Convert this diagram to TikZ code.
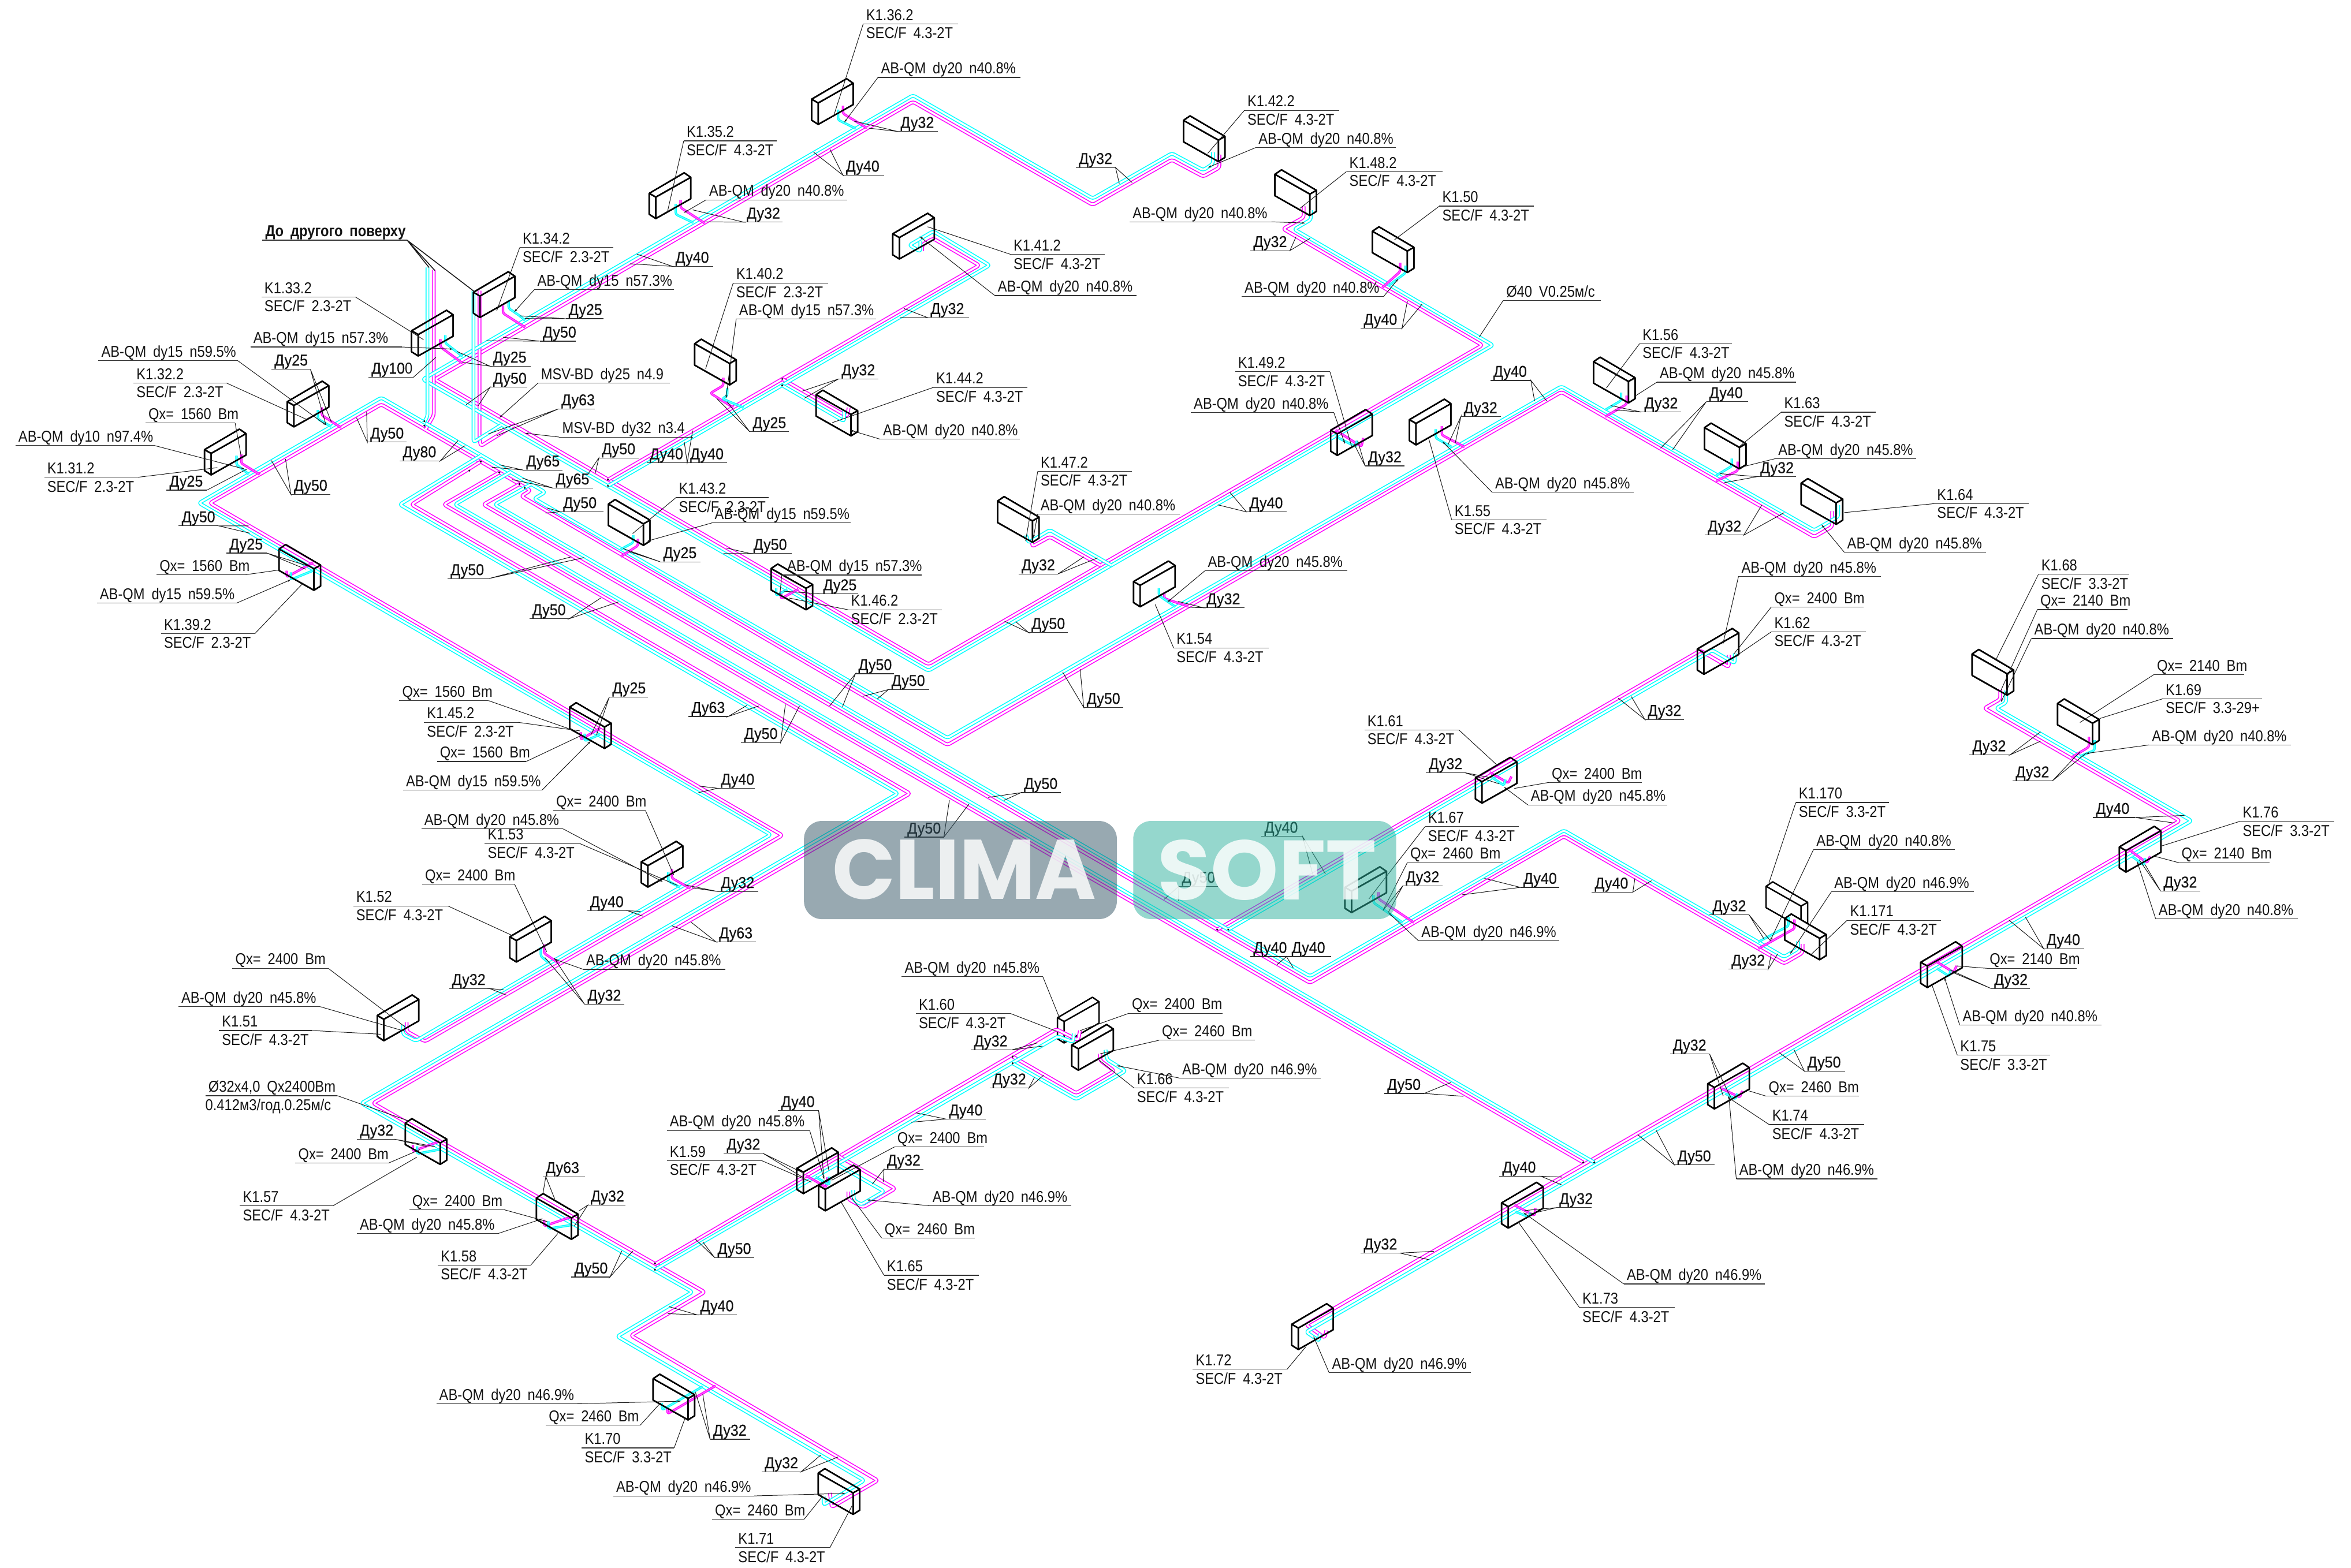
\documentclass[tikz,border=0pt]{standalone}
\usepackage{fontspec}
\setmainfont[FakeStretch=0.87,WordSpace=1.8]{Liberation Sans}
\newfontfamily\wmfont{Poppins}
\newfontfamily\dufont[FakeStretch=0.92,FakeBold=0.35]{Liberation Sans}
\usetikzlibrary{arrows.meta}
\definecolor{mg}{RGB}{255,0,255}
\definecolor{cy}{RGB}{0,255,255}
\definecolor{wmgrey}{RGB}{51,85,101}
\definecolor{wmteal}{RGB}{45,177,157}
\newcounter{lbn}
\tikzset{
  pm/.style={draw=mg,line width=.62pt,double=white,double distance=1.25pt,rounded corners=1.5pt,line join=round},
  pc/.style={draw=cy,line width=.62pt,double=white,double distance=1.25pt,rounded corners=1.5pt,line join=round},
  hm/.style={draw=mg,line width=.5pt,double=mg!60!white,double distance=.6pt,rounded corners=1.2pt,line join=round},
  hc/.style={draw=cy,line width=.5pt,double=cy!60!white,double distance=.6pt,rounded corners=1.2pt,line join=round},
  rad/.style={draw=black,line width=.95pt,line join=round,fill=white},
  radl/.style={draw=black,line width=.95pt,line join=round},
  ul/.style={draw=black!80,line width=.45pt},
  ld/.style={draw=black!90,line width=.38pt},
  la/.style={draw=black!90,line width=.38pt,-{Stealth[length=2.4pt,width=1.3pt]}},
  lb/.style={anchor=base west,inner sep=0pt,outer sep=0pt,font=\fontsize{10.5}{12}\selectfont,text=black!92},
}
\newcommand{\RadBody}{%
  \draw[rad] (0,0)--(23.3,-13.7)--(27.7,-10.7)--(27.7,3.6)--(4.4,16.8)--(0,14)--cycle;
  \draw[radl] (0,0)--(4.4,2.5)--(27.7,-10.7) (4.4,2.5)--(4.4,16.8);}
\newcommand{\RadA}[2]{\begin{scope}[shift={(#1,#2)}]\RadBody\end{scope}}
\newcommand{\RadB}[2]{\begin{scope}[shift={(#1,#2)},xscale=-1]\RadBody\end{scope}}
\newcommand{\U}[4]{\draw[ul] (#1,#3)--(#2,#3);\stepcounter{lbn}\node[lb] (t\thelbn) at ({#1+2},{#3-2.4}) {#4};}
\newcommand{\UU}[5]{\draw[ul] (#1,#3)--(#2,#3);\stepcounter{lbn}\node[lb] (t\thelbn) at ({#1+2},{#3-2.4}) {#4};\stepcounter{lbn}\node[lb] (t\thelbn) at ({#1+2},{#3+9.8}) {#5};}
\newcommand{\Ld}[2]{\draw[ld] (#1)--(#2);}
\newcommand{\La}[2]{\draw[la] (#1)--(#2);}
\newcommand{\Lt}[3]{\draw[ld] (#2)--(#1)--(#3);}
\catcode`Д=\active
\def Д#1#2#3{{\dufont\symbol{"0414}#1#2#3}}
\begin{document}
\begin{tikzpicture}[x=1pt,y=-1pt]
\useasboundingbox (0,0) rectangle (1568,1046);
\fill[white] (0,0) rectangle (1568,1046);
% radiators
\RadA{136.4}{300}\RadA{191.6}{268}\RadA{274.5}{220.7}\RadA{315.7}{195}\RadA{433}{129}\RadA{541.3}{66.2}\RadA{595.4}{156}
\RadB{491}{240}\RadB{572}{274}\RadB{817}{91}\RadB{878}{127}\RadB{943}{165}\RadB{693}{345}\RadB{433.5}{347}\RadB{542}{390}
\RadA{756}{388}\RadA{940}{280}\RadA{887.5}{287}\RadB{1090.5}{252}\RadB{1164.5}{296}\RadB{1229}{333}
\RadA{1132}{433}\RadA{984}{519}\RadA{897}{592}\RadB{1343}{447}\RadB{1400}{480}\RadA{1413.5}{565}\RadA{1281}{642}
\RadB{1205.6}{602}\RadB{1218}{623.5}\RadA{1139}{723}\RadA{1001.5}{802.5}\RadA{861.5}{883.5}
\RadA{705.3}{679}\RadA{714.8}{697.2}\RadA{531.4}{779.5}\RadA{546}{791}
\RadB{298}{760}\RadB{385.5}{810}\RadB{463.3}{930.5}\RadB{573.4}{993.5}
\RadA{251.6}{677.5}\RadA{340}{625}\RadA{427.7}{575}\RadB{407.6}{482.5}\RadB{213.8}{377}
% main pipes, magenta
\draw[pm] (271.2,682)--(271.2,688)--(283.5,694.8)--(521.8,557.3)--(140,335.6)--(254.3,269.8)--(353.8,327.2)--(347.7,331)--(631.9,497)--(1041.4,261.5)--(1210,358.2)--(1222,351.3)--(1222,341);
\draw[pm] (813.3,103.2)--(813.3,111.8)--(802.5,117.8)--(781.6,106.6)--(728.8,136.7)--(608.9,67.9)--(290,253.1)--(619.2,443.2)--(988.6,230.3)--(855.8,152.7)--(869.5,145)--(869.5,137.6);
\draw[pm] (320.6,308)--(274.4,336.6)--(606.9,529.4)--(248.8,736)--(470,862)--(420.8,891)--(585.4,987.7)--(554.7,1005.5)--(553.5,996);
\draw[pm] (333,315.2)--(296,336.6)--(1055.9,775.5);
\draw[pm] (346.4,323)--(322.4,336.6)--(811.8,620.2)--(873.7,655.7)--(1043,558)--(1189.9,642.8)--(1202.2,635.7)--(1202.2,629.8);
\draw[pm] (811.8,620.2)--(1134,434)--(1153,445)--(1153,437);
\draw[pm] (884.6,887.6)--(883.4,892.5)--(871.1,883.7)--(1453.7,547.6)--(1323.5,472.5)--(1334,466.5)--(1334,459.5);
\draw[pm] (405.5,320)--(653.1,177)--(622.4,159.1)--(615,163.3)--(615,167.5);
\draw[pm] (521.7,252.8)--(565,277.8)--(566,272);
\draw[pm] (289.3,180)--(289.3,277)--(283.9,286.4);
\draw[pm] (343,283.7)--(320.6,297.6)--(319.8,292)--(319.8,194);
\draw[pm] (436.8,843.4)--(704.6,686.6)--(719,694)--(720.3,687.6);
\draw[pm] (675.4,704.9)--(717.8,729.3)--(743.2,714.5)--(733.8,707.5)--(733.4,703);
\draw[pm] (559.6,771.5)--(597,793)--(575.6,805.5)--(565.8,800)--(565.8,795);
\draw[pm] (733.9,377.2)--(700.2,358.1)--(688.4,364.6)--(688.4,360);
% main pipes, cyan
\draw[pc] (268.8,684)--(268.8,690)--(277.4,694.4)--(514,556.9)--(132.7,335.6)--(254.3,265.3)--(363.6,328.4)--(356.3,332.7)--(631.9,492.3)--(1041.4,257.8)--(1210,353.8)--(1226,344.6)--(1226,337);
\draw[pc] (809,101.5)--(809,109.2)--(802.5,113.5)--(781.6,102.3)--(728.8,132.4)--(608.9,63.6)--(282,253.1)--(619.2,447.5)--(995.7,230.3)--(863.2,153)--(874.3,146.5)--(874.3,140.2);
\draw[pc] (320.6,304)--(266.6,336.6)--(598.8,529.4)--(241,736)--(461.8,862)--(411.7,891.6)--(576.4,987.7)--(549.3,1004)--(549.3,998);
\draw[pc] (340.3,315)--(303.4,336.6)--(1063.3,775.5);
\draw[pc] (353.8,323.3)--(330,336.6)--(819.2,620.2)--(873.7,651.3)--(1043,554)--(1189.9,638.4)--(1199.2,633)--(1199.2,628);
\draw[pc] (819.2,620.2)--(1142,433.8)--(1157,442.5)--(1157,436);
\draw[pc] (880.2,889.6)--(879.7,894.5)--(871.1,888.6)--(1461.6,547.6)--(1331.4,472.5)--(1338,468.7)--(1338,460.6);
\draw[pc] (405.5,324.2)--(660,177)--(622.4,154.3)--(606.5,163.5)--(613.8,167.8)--(613.8,161);
\draw[pc] (521.7,257.1)--(563,281)--(563,274);
\draw[pc] (285.1,178.5)--(285.1,277.8)--(282.7,282);
\draw[pc] (334.3,283.5)--(315.8,295)--(315.8,194);
\draw[pc] (436.8,847.1)--(705.6,691.4)--(715.8,695.2)--(716.1,689.5);
\draw[pc] (675.4,709.4)--(717.8,733.4)--(750.7,714.5)--(738.3,706.8)--(737.3,700.4);
\draw[pc] (558.4,776.9)--(589.6,794.8)--(574.4,803.6)--(569.5,800.8)--(569,794);
\draw[pc] (741.3,377.2)--(700.2,353.6)--(686,362)--(684.3,357);
% hooks
\draw[hm] (160.9,303.2)--(160.9,309)--(173.2,316.6); \draw[hc] (157.7,304)--(157.7,310)--(165.9,316.3);
\draw[hm] (214.6,271.8)--(214.6,277)--(227.5,285.3); \draw[hc] (212,273.5)--(212,279.5)--(220.9,284.6);
\draw[hm] (293.7,226.2)--(293.7,231.4)--(308.5,242.4); \draw[hc] (297,223.6)--(297,228.8)--(308.5,237.8);
\draw[hm] (335.5,203.9)--(335.5,209)--(350.2,218.4); \draw[hc] (339.2,200.4)--(339.2,205.6)--(346.6,210.7)--(350.2,213.8);
\draw[hm] (453.9,133.3)--(453.9,138.5)--(470,148.9); \draw[hc] (450.7,136)--(450.7,143)--(462.5,148.6);
\draw[hm] (562.2,70.5)--(562.2,75.7)--(578.2,85.4); \draw[hc] (559,73.1)--(559,80)--(570.8,85.8);
\draw[hm] (191.2,380.8)--(191.2,385)--(208.8,375.3); \draw[hc] (194,381.8)--(194,386.7)--(210,380.2);
\draw[hm] (387.4,488.5)--(387.4,493.4)--(400.2,485.7); \draw[hc] (390,489.5)--(390,494.4)--(400.2,490);
\draw[hm] (425.5,359.5)--(425.5,364)--(414,371.3); \draw[hc] (422.3,357)--(422.3,362)--(414,366.5);
\draw[hm] (520.9,394.4)--(520.9,399.4)--(532.4,393.1); \draw[hc] (517.7,392.5)--(517.7,397.4)--(525,393.2);
\draw[hm] (909.2,292.2)--(908,298)--(890.8,287); \draw[hc] (905,294)--(904.3,298)--(890.8,291.2);
\draw[hm] (933.8,175.3)--(933.8,181.2)--(922,191.8); \draw[hc] (937.5,177.2)--(937.5,182)--(926.4,190.3);
\draw[hm] (776.5,395.3)--(776.5,399.2)--(792.5,404.6); \draw[hc] (772.9,392.4)--(772.9,397.3)--(783.9,404.8);
\draw[hm] (961.6,284.3)--(961.6,290.2)--(976.8,298.2); \draw[hc] (957.6,286.3)--(957.6,292.2)--(968.2,298.2);
\draw[hm] (1084.9,264)--(1084.9,269.6)--(1070.6,278); \draw[hc] (1081.2,262)--(1081.2,267.2)--(1070.6,273.5);
\draw[hm] (1159,308)--(1159,314)--(1144.5,321); \draw[hc] (1155,306)--(1155,311)--(1144.5,317.3);
\draw[hm] (448.1,579.9)--(448.1,585.8)--(460.4,592.7); \draw[hc] (445.7,581.9)--(445.7,587.8)--(453.5,592);
\draw[hm] (362.9,630)--(362.9,635.9)--(373.2,643); \draw[hc] (360.7,632)--(360.7,637.9)--(366,642.4);
\draw[hm] (275.4,763.8)--(275.4,768)--(293,761.5); \draw[hc] (278.2,764.8)--(278.2,769.7)--(294.2,766.7);
\draw[hm] (362.9,813.8)--(362.9,818)--(380.5,812); \draw[hc] (365.7,814.8)--(365.7,819.7)--(381.7,817.2);
\draw[hm] (444.9,939)--(445.4,943.2)--(477.3,924.5); \draw[hc] (441.2,936)--(441.7,940.6)--(468.7,925);
\draw[hm] (552,785.5)--(551,792)--(537.5,784.3); \draw[hc] (553,785)--(553,790.5)--(544,785.2);
\draw[hm] (919.4,595.2)--(919.4,599.7)--(943,615.5); \draw[hc] (916,597)--(916,602.2)--(935.6,615.6);
\draw[hm] (1008,518)--(1006,522.4)--(993.6,515.3); \draw[hc] (1004,520)--(1003,524)--(995,518.6);
\draw[hm] (1393.2,491.6)--(1393.2,498.3)--(1381.4,505.5); \draw[hc] (1397,493.8)--(1397,500.5)--(1387.2,504.6);
\draw[hm] (1196.8,613.4)--(1196.8,619.5)--(1172.7,632.9); \draw[hc] (1192.8,611.7)--(1192.8,617.7)--(1172.7,628.4);
\draw[hm] (1024,806)--(1023.5,811)--(1010,804); \draw[hc] (1020.5,809)--(1019.8,812)--(1010.7,808.4);
\draw[hm] (1162,727.8)--(1160.4,732.1)--(1148,726.1); \draw[hc] (1158.7,729.5)--(1157.4,733.3)--(1150.6,729.5);
\draw[hm] (1304.9,644.4)--(1302.9,648.7)--(1290.6,641); \draw[hc] (1301,647)--(1300,651.3)--(1291.8,646.1);
\draw[hm] (1434,571.3)--(1431.9,575.7)--(1420,566.8); \draw[hc] (1430.6,572.4)--(1429.8,577.2)--(1421.9,571.3);
\draw[hm] (482.4,252)--(482.4,257.2)--(473.8,262.3)--(489,271.9); \draw[hc] (485,259)--(485,264)--(481.7,266)--(496,272);
% junction marks
\foreach \p in {(405.5,320),(405.5,324.2),(436.8,843),(436.8,847.1),(1055.9,775.5),(1063.3,775.5),(811.8,620.2),(819.2,620.2),(675.4,704.9),(675.4,709.4),(521.7,252.8),(521.7,257.1),(283,284),(283,281),(313,314),(320.6,308),(333,315.2),(346.4,323),(350,325.5)}{\fill[black] \p circle (.7);}
% radiator outlines over the pipes (K1.60 and K1.170 stay behind their neighbours)
\begin{scope}[rad/.style={draw=black,line width=.95pt,line join=round}]
\RadA{136.4}{300}\RadA{191.6}{268}\RadA{274.5}{220.7}\RadA{315.7}{195}\RadA{433}{129}\RadA{541.3}{66.2}\RadA{595.4}{156}
\RadB{491}{240}\RadB{572}{274}\RadB{817}{91}\RadB{878}{127}\RadB{943}{165}\RadB{693}{345}\RadB{433.5}{347}\RadB{542}{390}
\RadA{756}{388}\RadA{940}{280}\RadA{887.5}{287}\RadB{1090.5}{252}\RadB{1164.5}{296}\RadB{1229}{333}
\RadA{1132}{433}\RadA{984}{519}\RadA{897}{592}\RadB{1343}{447}\RadB{1400}{480}\RadA{1413.5}{565}\RadA{1281}{642}
\RadB{1218}{623.5}\RadA{1139}{723}\RadA{1001.5}{802.5}\RadA{861.5}{883.5}
\RadA{714.8}{697.2}\RadA{531.4}{779.5}\RadA{546}{791}
\RadB{298}{760}\RadB{385.5}{810}\RadB{463.3}{930.5}\RadB{573.4}{993.5}
\RadA{251.6}{677.5}\RadA{340}{625}\RadA{427.7}{575}\RadB{407.6}{482.5}\RadB{213.8}{377}
\end{scope}
% ---- labels and leaders ----
\U{175}{271.5}{160.2}{\bfseries\symbol{"0414}о другого поверху}
\draw[ld,line width=.6pt] (271.5,160.2)--(286.2,178.5) (271.5,160.2)--(290,180.4) (271.5,160.2)--(317,195);
\UU{174.4}{237}{198.1}{K1.33.2}{SEC/F 2.3-2T}\Ld{237,198.1}{282.5,226.6}
\U{167}{268}{231.5}{AB-QM dy15 n57.3\%}\La{268,231.5}{302.2,232.9}
\U{245.7}{275.7}{251.7}{Ду100}\Ld{275.7,251.7}{290.7,238.4}
\U{326.8}{353.8}{244.3}{Ду25}\Lt{326.8,244.3}{304.8,234.5}{308.5,241.7}
\U{65.6}{158.5}{240.6}{AB-QM dy15 n59.5\%}\La{158.5,240.6}{217.4,283.6}
\U{181}{207}{246.3}{Ду25}\Lt{207,246.3}{217.4,283.6}{221,281.6}
\UU{89}{151}{255.5}{K1.32.2}{SEC/F 2.3-2T}\Ld{151,255.5}{204,279.6}
\U{97}{156.8}{282.2}{Qx= 1560 Bm}\Ld{156.8,282.2}{161,305.2}
\U{10.3}{103.2}{297.3}{AB-QM dy10 n97.4\%}\La{103.2,297.3}{163.4,313}
\UU{29.5}{92.1}{318.4}{K1.31.2}{SEC/F 2.3-2T}\Ld{92.1,318.4}{145,312}
\U{111}{138}{327}{Ду25}\Ld{138,327}{164.6,313}
\U{194}{220.4}{329.8}{Ду50}\Lt{194,329.8}{181,307.2}{190.4,306.2}
\U{245}{271}{295}{Ду50}\Lt{245,295}{237.8,278.7}{244.5,274.7}
\U{266.6}{293.6}{307.5}{Ду80}\Lt{293.6,307.5}{305.4,294}{310.3,297.3}
\U{119.2}{145.7}{350.8}{Ду50}\Lt{145.7,350.8}{165.8,350.8}{166.6,355.7}
\U{151}{178}{369}{Ду25}\Lt{178,369}{204,379.8}{206.4,377.9}
\U{104.4}{163.9}{383.4}{Qx= 1560 Bm}\Ld{163.9,383.4}{186.7,380.2}
\U{64.6}{157.7}{402.4}{AB-QM dy15 n59.5\%}\La{157.7,402.4}{194,386.7}
\UU{107.4}{170}{422.7}{K1.39.2}{SEC/F 2.3-2T}\Ld{170,422.7}{201.5,389.7}
\U{298.5}{325.6}{386.1}{Ду50}\Lt{325.6,386.1}{381,371.5}{389.6,372}
\U{353}{379.6}{412.8}{Ду50}\Lt{379.6,412.8}{400.6,399}{412.4,401.6}
\UU{346.6}{409.2}{165.2}{K1.34.2}{SEC/F 2.3-2T}\Ld{346.6,165.2}{331.3,207.3}
\U{356.4}{449.3}{193.2}{AB-QM dy15 n57.3\%}\La{356.4,193.2}{342.9,208.2}
\U{377.3}{402.3}{212.6}{Ду25}\Lt{377.3,212.6}{346.6,210.7}{350.2,212.5}
\U{360}{384}{227.6}{Ду50}\Lt{360,227.6}{324.4,227.4}{335.5,225}
\U{448.5}{475.6}{177.7}{Ду40}\Lt{448.5,177.7}{424.7,169.5}{420.3,176}
\U{326.9}{351.5}{258.4}{Ду50}\Lt{326.9,258.4}{310.9,270}{319,270.6}
\U{358.8}{446.6}{255.6}{MSV-BD dy25 n4.9}\La{358.8,255.6}{333,278.7}
\U{372.4}{396.9}{272.8}{Ду63}\Lt{372.4,272.8}{325.7,289.5}{331.3,290.7}
\U{373}{462}{291.6}{MSV-BD dy32 n3.4}\La{373,291.6}{350.2,289}
\U{399.4}{426}{305.5}{Ду50}\Lt{399.4,305.5}{392,316.5}{397,315.7}
\U{431.3}{458.3}{308.8}{Ду40}\U{458.3}{484.9}{308.8}{Ду40}\Lt{458.3,308.8}{462,287.3}{456.4,295}
\U{349}{375.3}{313.6}{Ду65}\Lt{349,313.6}{333,310.1}{328,311.7}
\U{368.7}{395.7}{325.6}{Ду65}\Lt{368.7,325.6}{348.5,319}{341.6,320}
\U{373.6}{402.3}{341.4}{Ду50}\Lt{373.6,341.4}{365,338.9}{363.8,342.3}
\UU{450.8}{512.8}{332}{K1.43.2}{SEC/F 2.3-2T}\Ld{450.8,332}{421.9,356}
\U{474.7}{567.3}{348.9}{AB-QM dy15 n59.5\%}\La{474.7,348.9}{431.7,361}
\U{440.3}{467.3}{374.8}{Ду25}\Lt{440.3,374.8}{415.7,366}{419.4,368}
\U{500.5}{528}{369.3}{Ду50}\Lt{500.5,369.3}{484.5,365.6}{482.5,369.3}
\draw[ul] (521.4,383.6)--(614.7,383.6);\node[lb] (abx) at (525,381.2) {AB-QM dy15 n57.3\%};\La{521.4,383.6}{520,398}
\U{547}{572.2}{396.2}{Ду25}\Ld{547,396.2}{522.6,394.4}
\UU{565.6}{628.2}{406.8}{K1.46.2}{SEC/F 2.3-2T}\Ld{565.6,406.8}{526.3,399}
\U{679.3}{705.6}{382.9}{Ду32}\Lt{705.6,382.9}{722.8,371.5}{732,372.2}
\UU{692.1}{754.8}{314.5}{K1.47.2}{SEC/F 4.3-2T}\Ld{692.1,314.5}{684,361}
\U{692}{787}{343}{AB-QM dy20 n40.8\%}\La{692,343}{689.2,359}
\U{686}{712.3}{422}{Ду50}\Lt{686,422}{670,414.5}{677.4,414.7}
\U{722.8}{749}{472}{Ду50}\Lt{722.8,472}{708.8,448.5}{720.4,446.5}
\U{570.5}{596.3}{449.5}{Ду50}\Lt{570.5,449.5}{553.3,471}{561.9,471.5}
\U{592.6}{619.6}{460}{Ду50}\Lt{592.6,460}{575.4,464.6}{585.2,466.2}
\U{459.2}{485.7}{478}{Ду63}\Lt{485.7,478}{498,470.7}{506,471}
\U{494.3}{520.6}{495.4}{Ду50}\Lt{520.6,495.4}{523.8,470}{533.2,471}
\U{478.8}{503.4}{525.9}{Ду40}\Lt{478.8,525.9}{466.6,524.5}{465.8,528.8}
\U{681}{707.6}{528.8}{Ду50}\Lt{681,528.8}{659,532}{669.5,534}
\U{603.2}{629.5}{558.5}{Ду50}\Lt{629.5,558.5}{633.2,533.9}{646.2,536.5}
\U{406.4}{432.2}{465}{Ду25}\Lt{406.4,465}{394,490.5}{397.8,490.5}
\U{266.3}{326}{467.5}{Qx= 1560 Bm}\Ld{326,467.5}{381.8,487}
\UU{282.8}{345.4}{481.9}{K1.45.2}{SEC/F 2.3-2T}\Ld{345.4,481.9}{386.7,487.6}
\U{291.4}{351}{508}{Qx= 1560 Bm}\Ld{351,508}{388,490.5}
\U{268.8}{361.6}{527}{AB-QM dy15 n59.5\%}\La{361.6,527}{394,494.4}
\U{369}{430.4}{540.6}{Qx= 2400 Bm}\Ld{430.4,540.6}{449.4,583.8}
\U{281}{375.6}{553}{AB-QM dy20 n45.8\%}\La{375.6,553}{442,588.3}
\UU{323.3}{386.7}{562.8}{K1.53}{SEC/F 4.3-2T}\Ld{386.7,562.8}{451.8,590.7}
\U{478.8}{505.9}{594.8}{Ду32}\Lt{478.8,594.8}{456.7,590.3}{461.6,592.3}
\U{391.6}{418.6}{607.6}{Ду40}\Lt{418.6,607.6}{427.2,608}{429,611.3}
\U{477.6}{504.2}{628.4}{Ду63}\Lt{477.6,628.4}{448.1,617.6}{461,615.3}
\U{281.5}{343.2}{589.9}{Qx= 2400 Bm}\Ld{343.2,589.9}{364.6,635}
\UU{235.6}{298.7}{604.4}{K1.52}{SEC/F 4.3-2T}\Ld{298.7,604.4}{342.5,624.5}
\U{389}{483.8}{646.7}{AB-QM dy20 n45.8\%}\La{389,646.7}{369.5,639.8}
\U{389.9}{416.2}{670}{Ду32}\Lt{389.9,670}{363.4,638.8}{369.5,639}
\U{299.5}{326.5}{659.5}{Ду32}\Lt{326.5,659.5}{335.8,660.4}{337.6,663.8}
\U{155}{218.9}{646}{Qx= 2400 Bm}\Ld{218.9,646}{270,685}
\U{119}{213.5}{671.6}{AB-QM dy20 n45.8\%}\La{213.5,671.6}{270,688}
\UU{146}{208}{687.5}{K1.51}{SEC/F 4.3-2T}\Ld{208,687.5}{254,690}
\U{137}{225}{731}{Ø32x4,0 Qx2400Bm}\node[lb] (t0a) at (137,741) {0.412м3/год.0.25м/с};\Ld{225,731}{273,748}
\U{238}{263}{760}{Ду32}\Lt{263,760}{285,765}{290,765}
\U{197}{259}{776}{Qx= 2400 Bm}\Ld{259,776}{280,767}
\UU{160}{222}{804.5}{K1.57}{SEC/F 4.3-2T}\Ld{222,804.5}{278,772}
\U{362}{390}{785}{Ду63}\Lt{364,785}{362,797}{370,800}
\U{392}{417}{804}{Ду32}\Lt{392,804}{386,808}{383,818}
\U{273}{336}{807}{Qx= 2400 Bm}\Ld{336,807}{365,815}
\U{238}{332}{823}{AB-QM dy20 n45.8\%}\La{332,823}{362,813}
\UU{292}{354}{844}{K1.58}{SEC/F 4.3-2T}\Ld{354,844}{372,823}
\U{381}{406.8}{852}{Ду50}\Lt{406.8,852}{414.7,834.6}{422,834.6}
\U{465}{491.3}{877.2}{Ду40}\Lt{465,877.2}{446.1,871.7}{445.4,876.4}
\U{473.6}{500.2}{960.2}{Ду32}\Lt{473.6,960.2}{463.8,928.8}{468.7,930}
\U{291}{385}{936.5}{AB-QM dy20 n46.9\%}\La{385,936.5}{454,934.8}
\U{364}{427}{950.8}{Qx= 2460 Bm}\Ld{427,950.8}{440.5,936}
\UU{388}{449.6}{966}{K1.70}{SEC/F 3.3-2T}\Ld{449.6,966}{457,945.8}
\U{508}{534.3}{981.9}{Ду32}\Lt{534.3,981.9}{547.4,970.7}{559,972}
\U{409}{503}{998}{AB-QM dy20 n46.9\%}\La{503,998}{563.8,996.3}
\U{474.9}{536.3}{1013.6}{Qx= 2460 Bm}\Ld{536.3,1013.6}{548.6,998.2}
\UU{490.4}{553.5}{1032.5}{K1.71}{SEC/F 4.3-2T}\Ld{553.5,1032.5}{568.2,1004.7}
\U{519}{546}{741}{Ду40}\Lt{546,741}{549.3,784.8}{552.8,780.9}
\U{444.7}{540}{754.2}{AB-QM dy20 n45.8\%}\La{540,754.2}{549.8,786.9}
\U{482.7}{508.8}{769.4}{Ду32}\Lt{508.8,769.4}{535,782.2}{536.3,786}
\UU{444.7}{508}{774.3}{K1.59}{SEC/F 4.3-2T}\Ld{508,774.3}{541.2,788.7}
\U{589.6}{615.7}{780}{Ду32}\Lt{589.6,780}{581.8,790}{589,788.7}
\U{596.5}{656.2}{765.2}{Qx= 2400 Bm}\Ld{596.5,765.2}{554.7,787.4}
\U{620}{714.4}{804.4}{AB-QM dy20 n46.9\%}\La{620,804.4}{578,800.5}
\U{588}{650}{825.9}{Qx= 2460 Bm}\Ld{588,825.9}{568.2,799.2}
\UU{589.6}{653}{850.8}{K1.65}{SEC/F 4.3-2T}\Ld{589.6,850.8}{560.9,801.8}
\U{476.6}{503.1}{839}{Ду50}\Lt{476.6,839}{463.8,826.7}{468.7,828.5}
\U{631}{657.4}{746.6}{Ду40}\Lt{631,746.6}{610.8,742.4}{607.6,748.7}
\U{601.4}{695.5}{651.6}{AB-QM dy20 n45.8\%}\La{695.5,651.6}{707,680}
\UU{610.8}{674}{676.2}{K1.60}{SEC/F 4.3-2T}\Ld{674,676.2}{704.6,688}
\U{647.6}{674.6}{700.5}{Ду32}\Lt{674.6,700.5}{691.8,695.8}{695.3,697.9}
\U{660}{686.2}{725.9}{Ду32}\Lt{686.2,725.9}{689.9,718.8}{696,717.3}
\U{753}{815.3}{676}{Qx= 2400 Bm}\Ld{753,676}{720.3,687.6}
\U{773}{837}{694}{Qx= 2460 Bm}\Ld{773,694}{733.8,703}
\U{786.5}{881}{719.2}{AB-QM dy20 n46.9\%}\La{786.5,719.2}{744.7,710.9}
\UU{756.3}{819.6}{725.8}{K1.66}{SEC/F 4.3-2T}\Ld{756.3,725.8}{733.2,707.4}
\U{923.2}{949.8}{729.5}{Ду50}\Lt{949.8,729.5}{967.7,722.2}{976,731.4}
\U{1000}{1027.6}{784.7}{Ду40}\Lt{1027.6,784.7}{1041.9,785.3}{1041.4,790.4}
\U{1038}{1061.5}{805.7}{Ду32}\Lt{1038,805.7}{1016.8,807.6}{1020,810}
\U{907.5}{933.8}{836}{Ду32}\Lt{933.8,836}{956.4,834.8}{953.4,840.5}
\U{1083}{1177}{856.6}{AB-QM dy20 n46.9\%}\La{1083,856.6}{1016.1,809}
\UU{1053.4}{1116.8}{872.3}{K1.73}{SEC/F 4.3-2T}\Ld{1053.4,872.3}{1012.4,815}
\UU{795.5}{858.4}{913.5}{K1.72}{SEC/F 4.3-2T}\Ld{858.4,913.5}{871,898.4}
\U{886.4}{981}{915.7}{AB-QM dy20 n46.9\%}\La{886.4,915.7}{876,891.5}
\U{1116.8}{1143.4}{777.2}{Ду50}\Lt{1116.8,777.2}{1092.3,757}{1104.5,754}
\U{1113.7}{1140.2}{703.2}{Ду32}\Lt{1140.2,703.2}{1149.3,731.2}{1154.3,732.1}
\U{1203.4}{1230.4}{714.6}{Ду50}\Lt{1203.4,714.6}{1186.7,702.3}{1196.5,700.3}
\U{1177.6}{1239.8}{731.2}{Qx= 2460 Bm}\Ld{1177.6,731.2}{1166.5,727.8}
\UU{1180}{1243.2}{750.3}{K1.74}{SEC/F 4.3-2T}\Ld{1180,750.3}{1152.5,732.1}
\U{1158}{1252}{786.5}{AB-QM dy20 n46.9\%}\La{1158,786.5}{1153,731}
\U{1363}{1390}{632.9}{Ду40}\Lt{1363,632.9}{1339.8,613.8}{1350.8,611.7}
\U{1325}{1385.2}{646}{Qx= 2140 Bm}\Ld{1325,646}{1304.9,644.4}
\U{1328}{1354}{659.5}{Ду32}\Lt{1328,659.5}{1300.4,647}{1302.9,649}
\U{1307}{1401.7}{683.8}{AB-QM dy20 n40.8\%}\La{1307,683.8}{1296.8,652}
\UU{1305.4}{1367.5}{703.9}{K1.75}{SEC/F 3.3-2T}\Ld{1305.4,703.9}{1288.2,656.4}
\U{1395.9}{1424}{545.4}{Ду40}\Lt{1424,545.4}{1456.9,544}{1450.3,549.1}
\UU{1493.8}{1557}{548}{K1.76}{SEC/F 3.3-2T}\Ld{1493.8,548}{1441,564.6}
\U{1453}{1513.5}{575.5}{Qx= 2140 Bm}\Ld{1453,575.5}{1437.2,571.3}
\U{1441}{1467.4}{594.5}{Ду32}\Lt{1441,594.5}{1426.7,573.5}{1430.6,576.8}
\U{1437.7}{1532.4}{613}{AB-QM dy20 n40.8\%}\La{1437.7,613}{1425.3,574.6}
\U{1342.4}{1368.8}{521}{Ду32}\Lt{1368.8,521}{1387.2,501.6}{1391,502.7}
\U{1313.5}{1340.6}{503.6}{Ду32}\Lt{1340.6,503.6}{1360.9,488.3}{1360.9,494.5}
\U{1433.2}{1528}{497}{AB-QM dy20 n40.8\%}\La{1433.2,497}{1391,502.7}
\UU{1442.4}{1508.8}{466.2}{K1.69}{SEC/F 3.3-29+}\Ld{1442.4,466.2}{1400.3,479.4}
\U{1436.6}{1496.7}{450}{Qx= 2140 Bm}\Ld{1436.6,450}{1387.2,482}
\UU{1359.5}{1420}{383.2}{K1.68}{SEC/F 3.3-2T}\Ld{1359.5,383.2}{1331.4,439.6}
\U{1358.8}{1418.8}{406.7}{Qx= 2140 Bm}\Ld{1358.8,406.7}{1334,461.7}
\U{1354.8}{1449.5}{426}{AB-QM dy20 n40.8\%}\La{1354.8,426}{1334.5,468.4}
\UU{1197.7}{1260}{535.4}{K1.170}{SEC/F 3.3-2T}\Ld{1197.7,535.4}{1179.8,589}
\U{1209.5}{1303.8}{566.8}{AB-QM dy20 n40.8\%}\La{1209.5,566.8}{1180.6,627.7}
\U{1221.4}{1316.4}{595}{AB-QM dy20 n46.9\%}\La{1221.4,595}{1193.8,636.5}
\UU{1231.9}{1294.5}{614}{K1.171}{SEC/F 4.3-2T}\Ld{1231.9,614}{1208.2,636.5}
\U{1140.2}{1166.5}{610.3}{Ду32}\Lt{1166.5,610.3}{1176.4,626.3}{1180.8,627.7}
\U{1152.8}{1179.3}{646.6}{Ду32}\Lt{1179.3,646.6}{1181.3,636.7}{1185.7,636.3}
\U{1061.6}{1089}{595.2}{Ду40}\Lt{1089,595.2}{1090.4,586}{1101.4,587.6}
\U{841.3}{868.7}{558}{Ду40}\Lt{868.7,558}{875.8,584.3}{884,583}
\U{786.2}{812.4}{591.3}{Ду50}\Lt{786.2,591.3}{776.4,600}{785.9,601}
\draw[ul] (834,638.2)--(887.6,638.2);\node[lb] (t0b) at (836,635.8) {Ду40};\node[lb] (t0c) at (861.5,635.8) {Ду40};\Lt{858,638.2}{851.6,643.6}{862.5,645.6}
\UU{950.4}{1013}{551.5}{K1.67}{SEC/F 4.3-2T}\Ld{950.4,551.5}{913,599.7}
\U{938.6}{1002}{575.5}{Qx= 2460 Bm}\Ld{938.6,575.5}{922.4,607.4}
\U{935.6}{962}{591}{Ду32}\Lt{935.6,591}{922.4,607.4}{925.9,608.7}
\U{946}{1040}{627.6}{AB-QM dy20 n46.9\%}\La{946,627.6}{925.9,608.7}
\U{1014}{1040}{592}{Ду40}\Lt{1014,592}{975,597}{990,586}
\UU{910}{973}{487}{K1.61}{SEC/F 4.3-2T}\Ld{973,487}{998,510}
\U{1033}{1095}{522}{Qx= 2400 Bm}\Ld{1033,522}{1010,526}
\U{951}{977}{515.5}{Ду32}\Lt{977,515.5}{995,519}{1000,523}
\U{1019}{1112}{537}{AB-QM dy20 n45.8\%}\La{1019,537}{1003,525}
\U{1097}{1123}{480}{Ду32}\Lt{1097,480}{1079.2,465.7}{1088,464.7}
\U{1159.5}{1254.3}{384.5}{AB-QM dy20 n45.8\%}\La{1159.5,384.5}{1149,430}
\U{1181.4}{1243}{404.9}{Qx= 2400 Bm}\Ld{1181.4,404.9}{1156.4,436.3}
\UU{1181.4}{1244.5}{421.5}{K1.62}{SEC/F 4.3-2T}\Ld{1181.4,421.5}{1158.2,437.4}
\U{1230}{1324.5}{368.4}{AB-QM dy20 n45.8\%}\La{1230,368.4}{1214.8,350}
\UU{1290}{1353}{336}{K1.64}{SEC/F 4.3-2T}\Ld{1290,336}{1230,342}
\UU{1188}{1251}{275}{K1.63}{SEC/F 4.3-2T}\Ld{1188,275}{1160,298}
\U{1184}{1278}{306}{AB-QM dy20 n45.8\%}\La{1184,306}{1160,312}
\U{1172}{1198}{318}{Ду32}\Lt{1172,318}{1147,316}{1150,322}
\U{1137}{1163}{357}{Ду32}\Lt{1163,357}{1175,337}{1190,342}
\U{1138}{1166}{268}{Ду40}\Lt{1138,268}{1107.5,299}{1115.6,300}
\U{1105}{1198}{255}{AB-QM dy20 n45.8\%}\Ld{1105,255}{1089.8,264.7}
\UU{1093.5}{1155}{229.3}{K1.56}{SEC/F 4.3-2T}\Ld{1093.5,229.3}{1071.4,258.8}
\U{1094.7}{1121.3}{274.9}{Ду32}\Lt{1094.7,274.9}{1074.3,270.6}{1076.8,273.5}
\U{994}{1021}{253.8}{Ду40}\Lt{1021,253.8}{1023.5,267.6}{1031.6,267.6}
\U{1002.6}{1067.7}{200.4}{Ø40 V0.25м/с}\Ld{1002.6,200.4}{986.6,224.8}
\UU{823.7}{887}{248}{K1.49.2}{SEC/F 4.3-2T}\Ld{887,248}{901.8,299}
\U{794.2}{889.6}{275.3}{AB-QM dy20 n40.8\%}\La{889.6,275.3}{897,296.1}
\U{910.4}{936.7}{310.8}{Ду32}\Lt{910.4,310.8}{903,296}{905.5,294}
\U{828.1}{922.7}{197.9}{AB-QM dy20 n40.8\%}\La{922.7,197.9}{932.6,186}
\U{907.5}{935}{219.1}{Ду40}\Lt{935,219.1}{938.7,200.8}{948.5,202.8}
\U{831.3}{858.1}{341.5}{Ду40}\Lt{831.3,341.5}{820.3,328.5}{812.2,336.8}
\UU{968.2}{1031.3}{346.8}{K1.55}{SEC/F 4.3-2T}\Ld{968.2,346.8}{953,293.1}
\U{995.2}{1089.8}{328.5}{AB-QM dy20 n45.8\%}\La{995.2,328.5}{962,294.5}
\U{974.3}{1000.9}{278}{Ду32}\Lt{974.3,278}{965.7,296.7}{970.6,295.5}
\UU{782.7}{846}{432.2}{K1.54}{SEC/F 4.3-2T}\Ld{782.7,432.2}{770.4,403.2}
\U{803.6}{898.7}{380.8}{AB-QM dy20 n45.8\%}\La{803.6,380.8}{778.5,401.8}
\U{802.8}{830.1}{405.5}{Ду32}\Lt{802.8,405.5}{785.6,401.2}{792.5,405.1}
\UU{960}{1023}{137.5}{K1.50}{SEC/F 4.3-2T}\Ld{960,137.5}{930,160}
\UU{898}{962}{114.5}{K1.48.2}{SEC/F 4.3-2T}\Ld{898,114.5}{867,139}
\U{753.4}{848}{148}{AB-QM dy20 n40.8\%}\La{848,148}{870.6,148.8}
\U{834}{860.3}{167.2}{Ду32}\Lt{860.3,167.2}{864.4,157.9}{873.8,159}
\UU{830}{893}{73.6}{K1.42.2}{SEC/F 4.3-2T}\Ld{830,73.6}{805.5,102.3}
\U{837.4}{931}{98.5}{AB-QM dy20 n40.8\%}\La{837.4,98.5}{805.5,111.8}
\U{717.5}{744}{111.8}{Ду32}\Lt{744,111.8}{746.5,122.4}{755.1,121.8}
\UU{575.7}{639.1}{16}{K1.36.2}{SEC/F 4.3-2T}\Ld{575.7,16}{556,77.4}
\U{585.6}{680.6}{51.6}{AB-QM dy20 n40.8\%}\La{585.6,51.6}{563,81.7}
\U{598.6}{625.4}{87.7}{Ду32}\Lt{598.6,87.7}{569.6,80.8}{579.4,85.5}
\U{562.2}{589.5}{116.9}{Ду40}\Lt{562.2,116.9}{542.6,101.5}{553.6,99.7}
\UU{456}{518}{94}{K1.35.2}{SEC/F 4.3-2T}\Ld{456,94}{445,142}
\U{471}{565.2}{133.3}{AB-QM dy20 n40.8\%}\La{471,133.3}{456,142}
\U{496}{522}{148.2}{Ду32}\Lt{496,148.2}{462,140}{470,148}
\UU{674}{736.7}{169.7}{K1.41.2}{SEC/F 4.3-2T}\Ld{674,169.7}{618.7,151.3}
\U{663.5}{757.8}{197.2}{AB-QM dy20 n40.8\%}\La{663.5,197.2}{613.3,157.7}
\U{618.7}{646.3}{211.9}{Ду32}\Lt{618.7,211.9}{602.8,205.8}{600.3,211.9}
\UU{622.4}{685.1}{258.5}{K1.44.2}{SEC/F 4.3-2T}\Ld{622.4,258.5}{555,282}
\U{587}{680}{293}{AB-QM dy20 n40.8\%}\La{587,293}{567,287}
\U{559.3}{586}{252.8}{Ду32}\Lt{559.3,252.8}{535.2,260.9}{536.4,265.7}
\UU{489}{552.4}{188.8}{K1.40.2}{SEC/F 2.3-2T}\Ld{489,188.8}{470.6,246}
\U{491}{584.3}{212.7}{AB-QM dy15 n57.3\%}\La{491,212.7}{484.2,265.8}
\U{500}{526}{288}{Ду25}\Lt{500,288}{478,265.8}{485,268}
% watermark
\fill[wmgrey,fill opacity=.5,rounded corners=12pt] (536.2,547.7) rectangle (744.9,613.2);
\fill[wmteal,fill opacity=.5,rounded corners=12pt] (755.8,547.7) rectangle (931.2,613.2);
\node[anchor=south west,inner sep=0pt,text=white,text opacity=.82] (wm1) at (555,600.5) {\resizebox{176pt}{40pt}{\wmfont\bfseries CLIMA}};
\node[anchor=south west,inner sep=0pt,text=white,text opacity=.82] (wm2) at (772,601) {\resizebox{146pt}{40pt}{\wmfont\bfseries SOFT}};
\end{tikzpicture}
\end{document}
